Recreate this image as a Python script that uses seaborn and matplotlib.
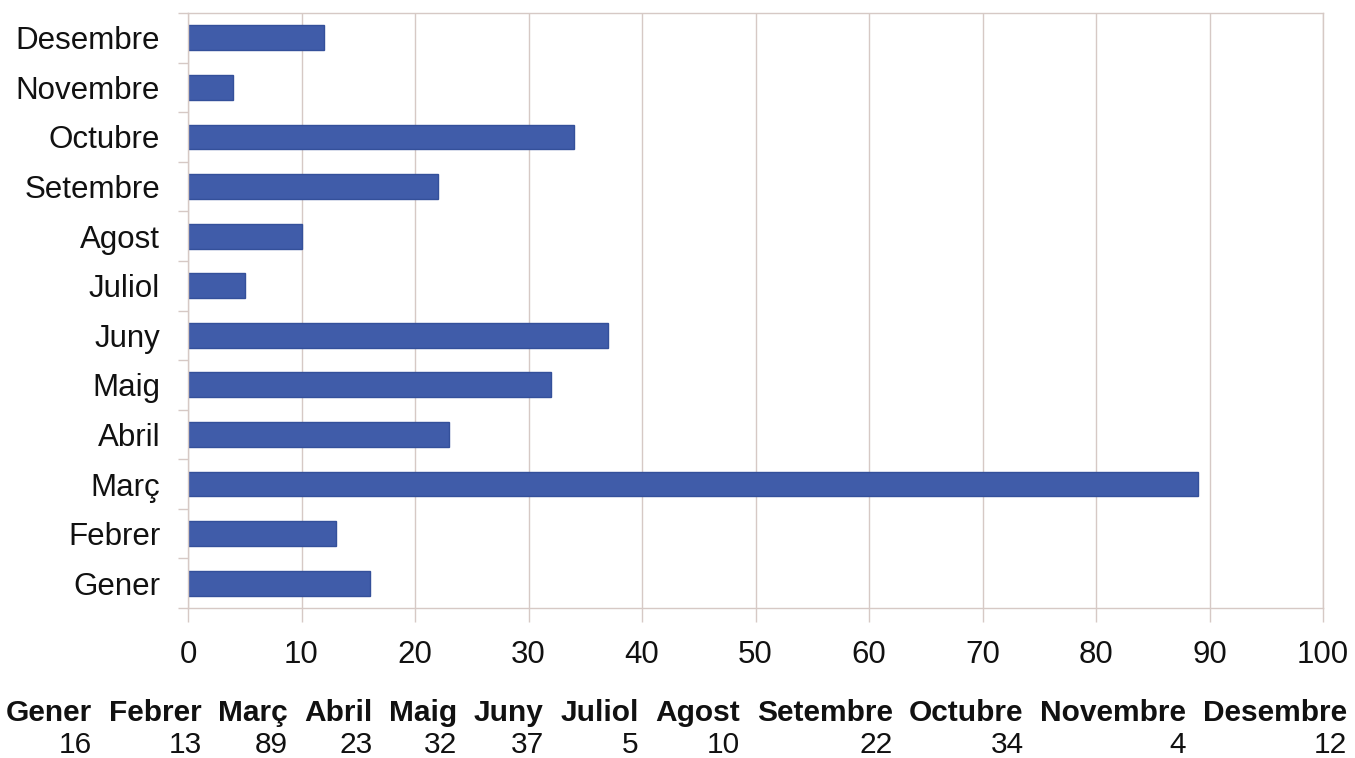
import matplotlib
matplotlib.use("Agg")
import matplotlib.pyplot as plt
from matplotlib.ticker import FixedLocator
import seaborn as sns
import pandas as pd

months = ["Gener", "Febrer", "Març", "Abril", "Maig", "Juny", "Juliol",
          "Agost", "Setembre", "Octubre", "Novembre", "Desembre"]
values = [16, 13, 89, 23, 32, 37, 5, 10, 22, 34, 4, 12]
x_ticks = [0, 10, 20, 30, 40, 50, 60, 70, 80, 90, 100]

sns.set_theme(style="white")
plt.rcParams['font.family'] = ['Liberation Sans', 'DejaVu Sans']

BAR = "#405ca9"
EDGE = "#34509a"
GRID = "#d6c9c5"

df = pd.DataFrame({"mes": months, "valor": values})

fig = plt.figure(figsize=(13.55, 7.58), dpi=100)
ax = fig.add_axes([188/1355, 1-608/758, (1323-188)/1355, (608-13)/758])

sns.barplot(data=df, x="valor", y="mes", order=months[::-1], orient="h",
            color=BAR, saturation=1, width=0.5, edgecolor=EDGE, linewidth=1,
            ax=ax)

ax.set_xlim(0, 100)
ax.set_ylim(11.5, -0.5)
ax.set_xticks(x_ticks)
ax.set_xlabel("")
ax.set_ylabel("")
ax.xaxis.grid(True, color=GRID, linewidth=1)
ax.set_axisbelow(True)
for s in ax.spines.values():
    s.set_color(GRID)
    s.set_linewidth(1)

ax.tick_params(axis="x", which="major", length=10, color=GRID, width=1,
               pad=13, labelsize=22.5, labelcolor="#111111", bottom=True)
ax.tick_params(axis="y", which="major", length=0, pad=20, labelsize=22.5,
               labelcolor="#111111")
ax.yaxis.set_minor_locator(FixedLocator([i + 0.5 for i in range(-1, 12)]))
ax.tick_params(axis="y", which="minor", length=7, color=GRID, width=1, left=True)

# data table below the chart
fig.canvas.draw()
renderer = fig.canvas.get_renderer()
W, H = 1355, 758
hdr_y = 1 - 713/758
val_y = 1 - 745/758
heads = [fig.text(0, hdr_y, m, fontsize=21.5, fontweight="bold",
                  ha="left", va="center", color="#111111") for m in months]
widths = [t.get_window_extent(renderer).width for t in heads]
x_start, x_end = 6, 1347
gap = (x_end - x_start - sum(widths)) / (len(months) - 1)
x = x_start
for t, w, v in zip(heads, widths, values):
    t.set_x(x / W)
    fig.text((x + w) / W, val_y, str(v), fontsize=21.5, ha="right",
             va="center", color="#111111")
    x += w + gap

fig.savefig("out.png", dpi=100, facecolor="white")
